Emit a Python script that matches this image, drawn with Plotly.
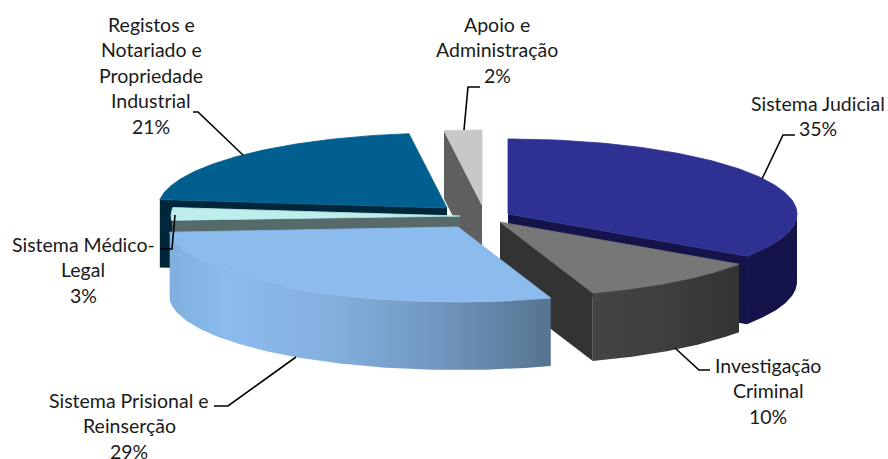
import numpy as np
import plotly.graph_objects as go

# --- data -----------------------------------------------------------------
categories = ["Sistema Judicial", "Investigação Criminal", "Sistema Prisional e Reinserção",
              "Sistema Médico-Legal", "Registos e Notariado e Propriedade Industrial",
              "Apoio e Administração"]
shares = [34.5, 10.3, 29.1, 2.9, 21.1, 2.1]       # slice sizes
percent_labels = [35, 10, 29, 3, 21, 2]            # printed percentages

# --- label layout ---------------------------------------------------------
label_lines = [["Sistema Judicial"], ["Investigação", "Criminal"],
               ["Sistema Prisional e", "Reinserção"], ["Sistema Médico-", "Legal"],
               ["Registos e", "Notariado e", "Propriedade", "Industrial"],
               ["Apoio e", "Administração"]]
label_x = [818, 768, 129, 83, 151, 497]
label_y0 = [103, 365, 400, 244, 24, 24]
line_gap = 25.6
leader_x = [[762, 783, 795], [675, 699, 710], [296, 228, 214],
            [175, 172, 160], [243, 198, 193], [464, 468, 480]]
leader_y = [[179, 135, 135], [348, 370, 370], [357, 406, 406],
            [215, 249, 249], [155, 112, 112], [130, 87, 87]]

# --- 3-D pie projection ---------------------------------------------------
RX, RY, DEPTH = 289, 75, 68
apex_x = [508, 500, 458, 460, 447, 482]
apex_y = [214, 222, 227, 216, 208, 205]
top_colors = ["#2E3192", "#777777", "#8CBBEE", "#BDEEEC", "#005F8F", "#C8C8C8"]
face_colors = ["#14144A", "#333333", "#7FA8D6", "#566A6A", "#00263A", "#5F5F5F"]
face_side = ["end", "end", None, "start", "start", "start"]
wall_scales = [
    [[0, "#14144A"], [1, "#14144A"]],
    [[0, "#444444"], [0.5, "#3E3E3E"], [1, "#333333"]],
    [[0, "#7FAEDF"], [0.15, "#8CBBEE"], [0.42, "#84B0DE"], [0.7, "#7097BF"], [1, "#567390"]],
    None, None, None,
]
draw_order = [5, 4, 0, 1, 3, 2]

fracs = np.cumsum([0] + shares) / sum(shares)
angles = np.radians(fracs * 360)


def rim(i, t):
    return apex_x[i] + RX * np.sin(t), apex_y[i] - RY * np.cos(t)


def poly(x, y, color=None, gradient=None, edge=0):
    kw = dict(x=list(x), y=list(y), mode="lines", fill="toself",
              line=dict(width=edge, color=color or "rgba(0,0,0,0)"),
              hoverinfo="skip", showlegend=False)
    if gradient:
        kw["fillgradient"] = dict(type="horizontal", colorscale=gradient)
    else:
        kw["fillcolor"] = color
    return go.Scatter(**kw)


fig = go.Figure()
for i in draw_order:
    t0, t1 = angles[i], angles[i + 1]
    # cut face
    if face_side[i]:
        t = t0 if face_side[i] == "start" else t1
        rx_, ry_ = rim(i, t)
        fig.add_trace(poly([rx_, apex_x[i], apex_x[i], rx_],
                           [ry_, apex_y[i], apex_y[i] + DEPTH, ry_ + DEPTH], face_colors[i]))
    # outer wall (only the part that faces the viewer)
    a, b = max(t0, np.pi / 2), min(t1, 3 * np.pi / 2)
    if b > a:
        ts = np.linspace(a, b, 80)
        wx, wy = rim(i, ts)
        fig.add_trace(poly(np.r_[wx, wx[::-1]], np.r_[wy, wy[::-1] + DEPTH],
                           gradient=wall_scales[i]))
    # top surface
    ts = np.linspace(t0, t1, 120)
    tx, ty = rim(i, ts)
    fig.add_trace(poly(np.r_[apex_x[i], tx, apex_x[i]], np.r_[apex_y[i], ty, apex_y[i]],
                       top_colors[i], edge=0.8))

# leaders
for xs, ys in zip(leader_x, leader_y):
    fig.add_trace(go.Scatter(x=xs, y=ys, mode="lines", line=dict(color="#000000", width=1.6),
                             hoverinfo="skip", showlegend=False))

# labels
for i, lines in enumerate(label_lines):
    for j, txt in enumerate(lines + [f"{percent_labels[i]}%"]):
        fig.add_annotation(x=label_x[i], y=label_y0[i] + j * line_gap, text=txt, showarrow=False,
                           xanchor="center", yanchor="middle",
                           font=dict(family="Lato, Carlito, sans-serif", size=19.5, color="#1A1A1A"))

fig.update_layout(
    width=888, height=459, margin=dict(l=0, r=0, t=0, b=0),
    paper_bgcolor="white", plot_bgcolor="white", showlegend=False,
    xaxis=dict(range=[0, 888], visible=False, fixedrange=True),
    yaxis=dict(range=[459, 0], visible=False, fixedrange=True),
)
fig.write_html("out.html", config={"displayModeBar": False},
               post_script="document.body.style.margin='0';document.body.style.overflow='hidden';")
